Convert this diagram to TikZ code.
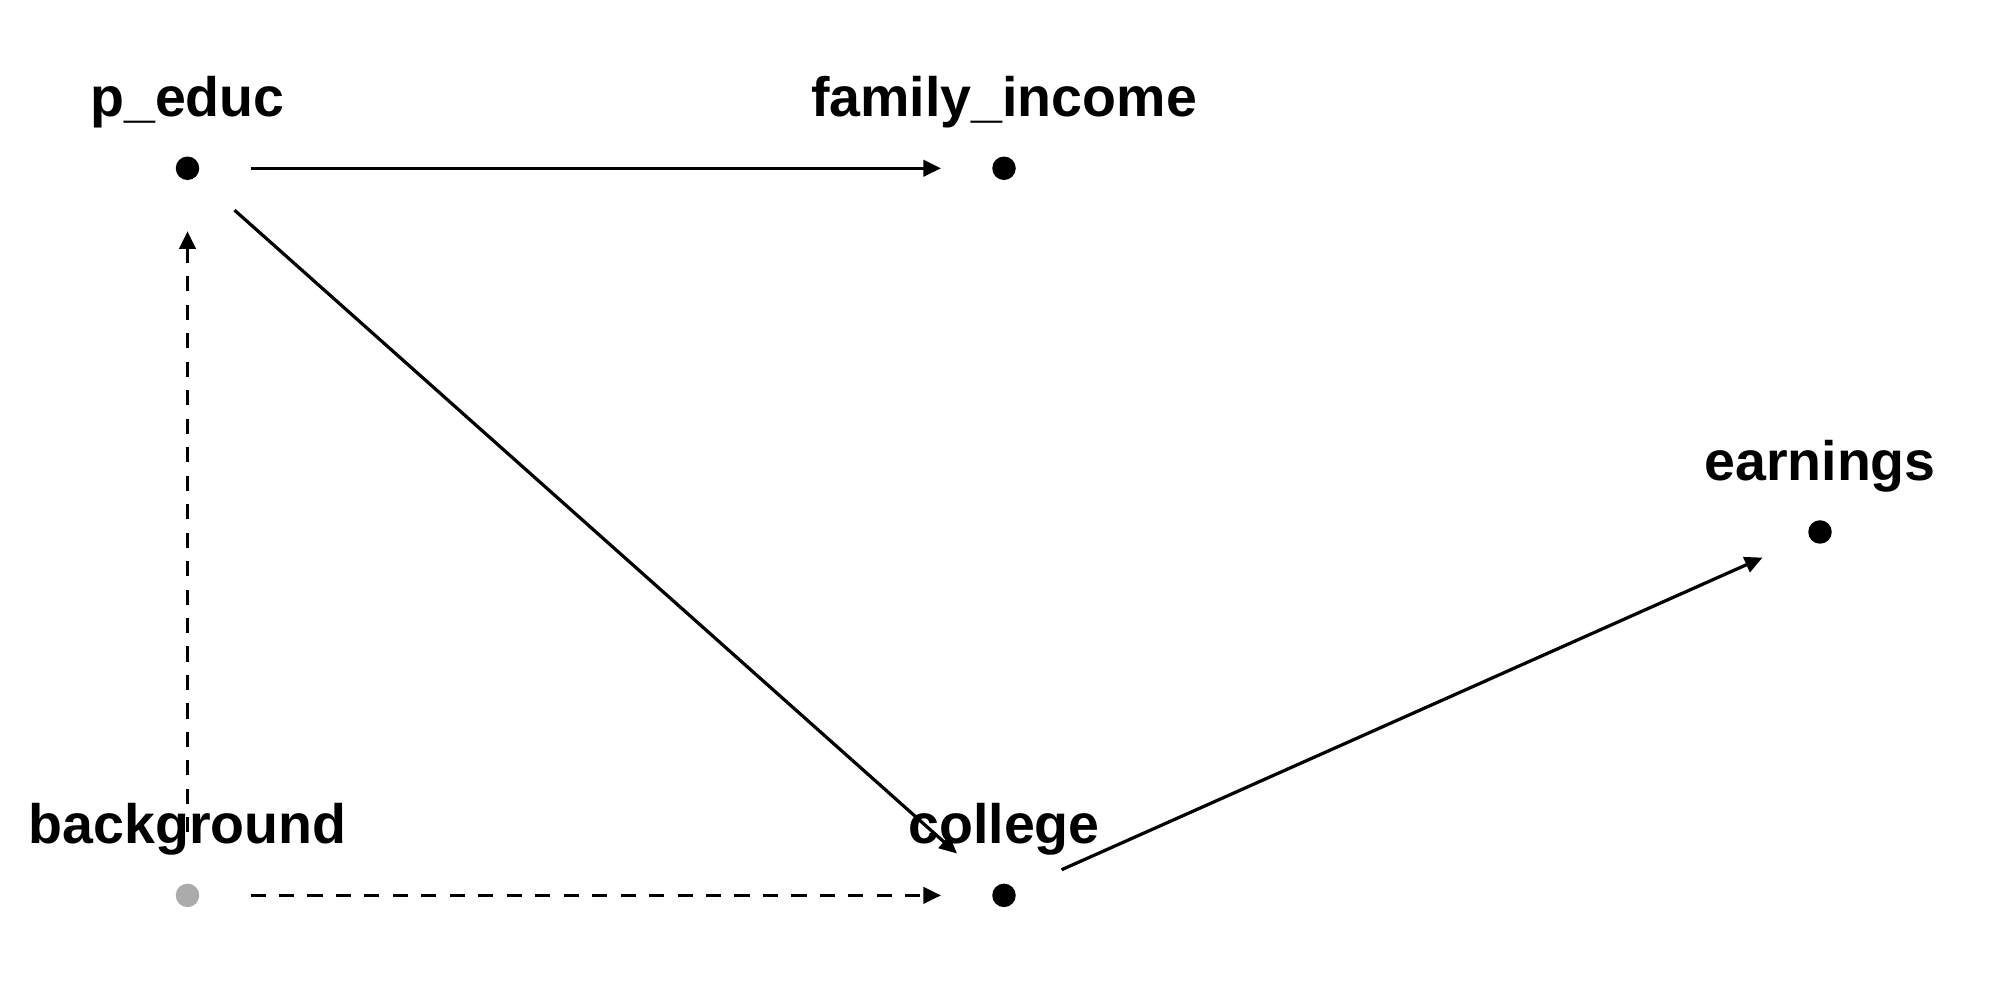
\documentclass[tikz,border=0pt]{standalone}
\usepackage{fontspec}
\setmainfont{Liberation Sans}
\usetikzlibrary{arrows.meta}
\begin{document}
\begin{tikzpicture}[
  dotnode/.style={circle,fill=black,inner sep=0pt,minimum size=0.235cm},
  graydot/.style={circle,fill=black!33,inner sep=0pt,minimum size=0.235cm},
  lbl/.style={anchor=base,inner sep=0pt,font=\fontsize{15.8pt}{18pt}\selectfont\bfseries},
  edge/.style={line width=0.92pt,-{Triangle[length=5pt,width=4.6pt]},shorten <=0.63cm,shorten >=0.63cm},
  dashedge/.style={edge,dash pattern=on 4.3pt off 3.8pt}
]
\useasboundingbox (0,0) rectangle (20,10);
\node[dotnode] (pe) at (1.875,8.317) {};
\node[dotnode] (fi) at (10.04,8.317) {};
\node[dotnode] (ea) at (18.2,4.68) {};
\node[graydot] (bg) at (1.875,1.046) {};
\node[dotnode] (co) at (10.04,1.046) {};
\node[lbl] (lpe) at ([yshift=0.516cm]pe.center) {p\_educ};
\node[lbl] (lfi) at ([yshift=0.516cm]fi.center) {family\_income};
\node[lbl] (lea) at ([yshift=0.516cm]ea.center) {earnings};
\node[lbl] (lbg) at ([yshift=0.516cm]bg.center) {background};
\node[lbl] (lco) at ([yshift=0.516cm]co.center) {college};
\draw[edge] (pe.center) -- (fi.center);
\draw[edge] (pe.center) -- (co.center);
\draw[edge] (co.center) -- (ea.center);
\draw[dashedge] (bg.center) -- (pe.center);
\draw[dashedge] (bg.center) -- (co.center);
\end{tikzpicture}
\end{document}
